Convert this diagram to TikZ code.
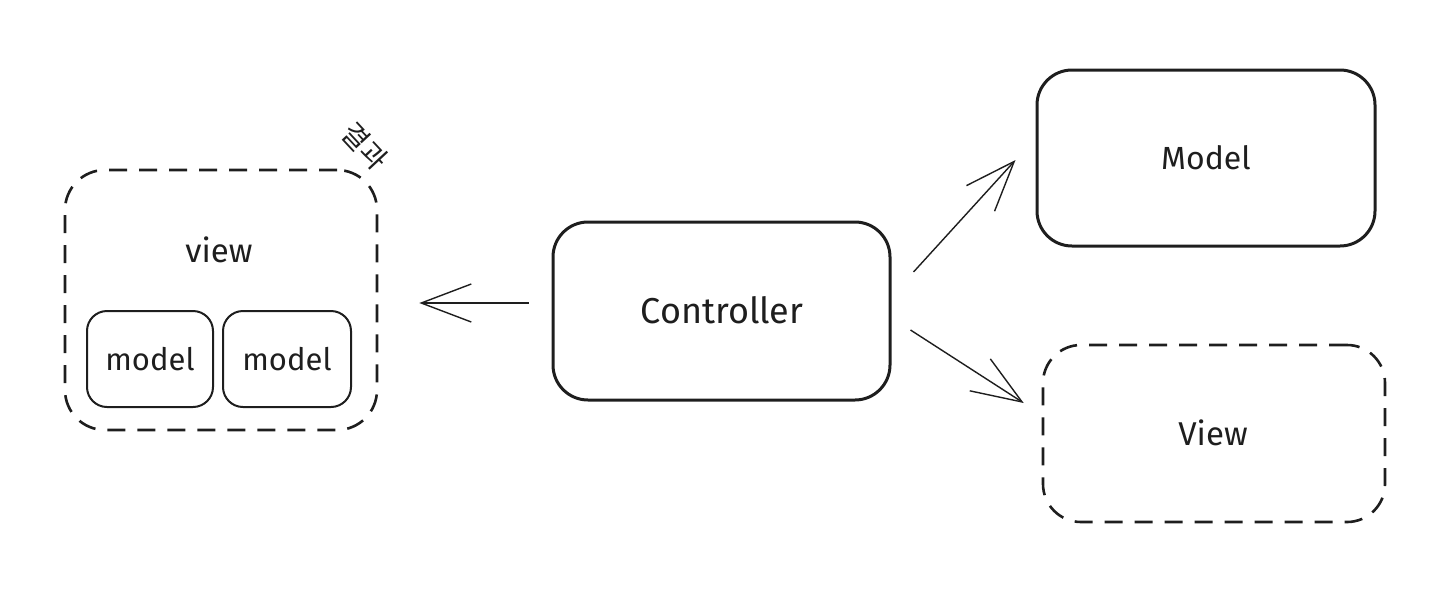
\documentclass[tikz,border=0pt]{standalone}
\usepackage{fontspec}
\setmainfont{Fira Sans}
\newfontfamily\krfont{Noto Sans CJK KR}
\usetikzlibrary{arrows.meta}
\definecolor{ink}{HTML}{1E1E1E}
\tikzset{
  box/.style={draw=ink, line width=3pt, rounded corners=35pt, inner sep=0pt},
  dbox/.style={draw=ink, line width=2.6pt, dash pattern=on 18pt off 12pt, rounded corners=40pt, inner sep=0pt},
  sbox/.style={draw=ink, line width=2pt, rounded corners=20pt, inner sep=0pt},
  lbl/.style={inner sep=0pt, text=ink},
  arr/.style={draw=ink, line width=1.4pt, -{Straight Barb[length=50pt,width=38pt,line width=1.4pt]}},
}
\begin{document}
\begin{tikzpicture}[x=1pt,y=-1pt]
\useasboundingbox (0,0) rectangle (1440,598);
% left container
\node[dbox, minimum width=312pt, minimum height=260pt] (cv) at (221,300) {};
\node[lbl, font=\fontsize{33}{40}\selectfont] (cvl) at (219,250) {view};
\node[sbox, minimum width=126pt, minimum height=96pt] (m1) at (150,359) {};
\node[lbl, font=\fontsize{31}{37}\selectfont] (m1l) at (m1) {model};
\node[sbox, minimum width=128pt, minimum height=96pt] (m2) at (287,359) {};
\node[lbl, font=\fontsize{31}{37}\selectfont] (m2l) at (m2) {model};
\node[lbl, rotate=-47, font=\krfont\fontsize{28}{34}\selectfont] (res) at (365,146) {결과};
% controller
\node[box, minimum width=337pt, minimum height=178pt] (ctrl) at (721.5,311) {};
\node[lbl, font=\fontsize{36}{43}\selectfont] (ctrll) at (722,310) {Controller};
% model
\node[box, minimum width=338pt, minimum height=176pt] (model) at (1206,158) {};
\node[lbl, font=\fontsize{32}{38}\selectfont] (modell) at (1206,158) {Model};
% view right
\node[dbox, rounded corners=38pt, minimum width=342pt, minimum height=177pt] (viewR) at (1214,433.5) {};
\node[lbl, font=\fontsize{33}{40}\selectfont] (viewRl) at (1213,433) {View};
% arrows
\draw[arr] ([shift={(-23,-8)}]ctrl.west) -- ([shift={(41,3)}]cv.east);
\draw[arr] ([shift={(22,-39)}]ctrl.east) -- ([shift={(-20,2)}]model.west);
\draw[arr] ([shift={(19,19)}]ctrl.east) -- ([shift={(-18,-30.5)}]viewR.west);
\end{tikzpicture}
\end{document}
